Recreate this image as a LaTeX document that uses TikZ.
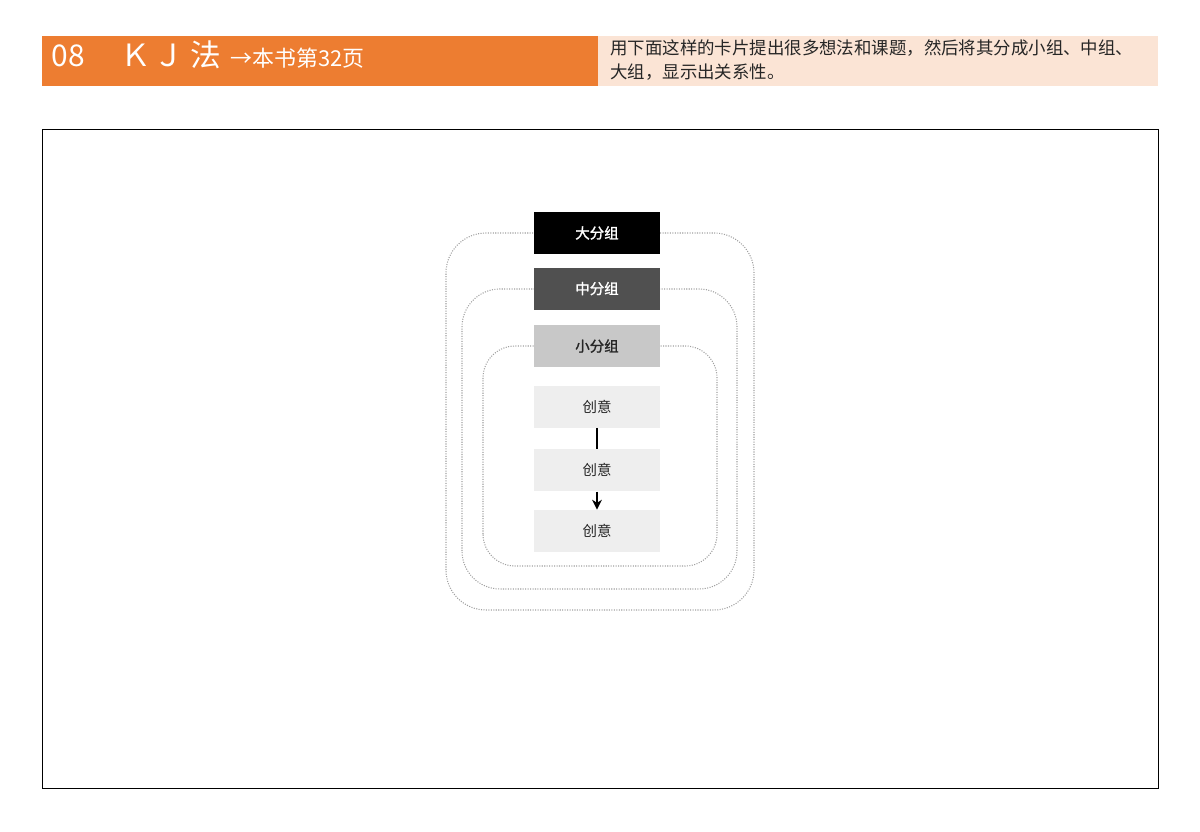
\documentclass[tikz,border=0pt]{standalone}
\usepackage{fontspec}
\setmainfont{Noto Sans CJK SC}[AutoFakeBold=1.5]
\usetikzlibrary{positioning,arrows.meta}
\definecolor{kjorange}{HTML}{ED7D31}
\definecolor{kjpeach}{HTML}{FBE4D5}
\definecolor{kjdark}{HTML}{505050}
\definecolor{kjmid}{HTML}{C8C8C8}
\definecolor{kjlight}{HTML}{EEEEEE}
\definecolor{kjtext}{HTML}{262626}
\definecolor{kjdots}{HTML}{A0A0A0}
\tikzset{
	cardbox/.style={minimum width=3.15cm,minimum height=1.05cm,inner sep=0pt,text=kjtext,font=\fontsize{10.3}{12}\selectfont},
	groupbox/.style={cardbox,font=\fontsize{10.3}{12}\selectfont\bfseries},
	groupline/.style={densely dotted,draw=kjdots,line width=0.75pt},
	headtext/.style={anchor=base west,inner sep=0pt,text=white},
}
\begin{document}
\begin{tikzpicture}
			\useasboundingbox (0,0) rectangle (30,20.775);
			% header bar
			\fill[kjorange] (1.05,18.625) rectangle (14.95,19.875);
			\fill[kjpeach] (14.95,18.625) rectangle (28.95,19.875);
			\node[headtext,font=\fontsize{21.3}{24}\selectfont] (num) at (1.29,19.1) {08};
			\node[headtext,font=\fontsize{21.8}{24}\selectfont] (title) at (3.0,19.1) {Ｋ\hspace{1.5pt}Ｊ\hspace{5pt}法};
			\node[headtext,font=\fontsize{15.6}{18}\selectfont] (page) at (5.75,19.1) {→本书第32页};
			\node[anchor=north west,inner sep=0pt,align=left,text=kjtext,font=\fontsize{12.4}{17.2}\selectfont] (note) at (15.25,19.8)
			{用下面这样的卡片提出很多想法和课题，然后将其分成小组、中组、\\大组，显示出关系性。};
			% frame
			\draw[line width=0.7pt] (1.05,1.075) rectangle (28.95,17.55);
			% nested groups
			\draw[groupline,rounded corners=1cm] (11.15,5.525) rectangle (18.85,14.95);
			\draw[groupline,rounded corners=0.95cm] (11.55,6.05) rectangle (18.425,13.55);
			\draw[groupline,rounded corners=0.8cm] (12.075,6.625) rectangle (17.925,12.125);
			\node[groupbox,fill=black,text=white] (big) at (14.925,14.95) {大分组};
			\node[groupbox,fill=kjdark,text=white,below=0.325cm of big] (mid) {中分组};
			\node[groupbox,fill=kjmid,below=0.375cm of mid] (small) {小分组};
			\node[cardbox,fill=kjlight,below=0.45cm of small] (ideaA) {创意};
			\node[cardbox,fill=kjlight,below=0.525cm of ideaA] (ideaB) {创意};
			\node[cardbox,fill=kjlight,below=0.45cm of ideaB] (ideaC) {创意};
			\draw[line width=0.8pt] (ideaA) -- (ideaB);
			\draw[-{Stealth[length=7pt,width=7pt]},line width=0.8pt] (ideaB) -- (ideaC);
		\end{tikzpicture}
\end{document}
